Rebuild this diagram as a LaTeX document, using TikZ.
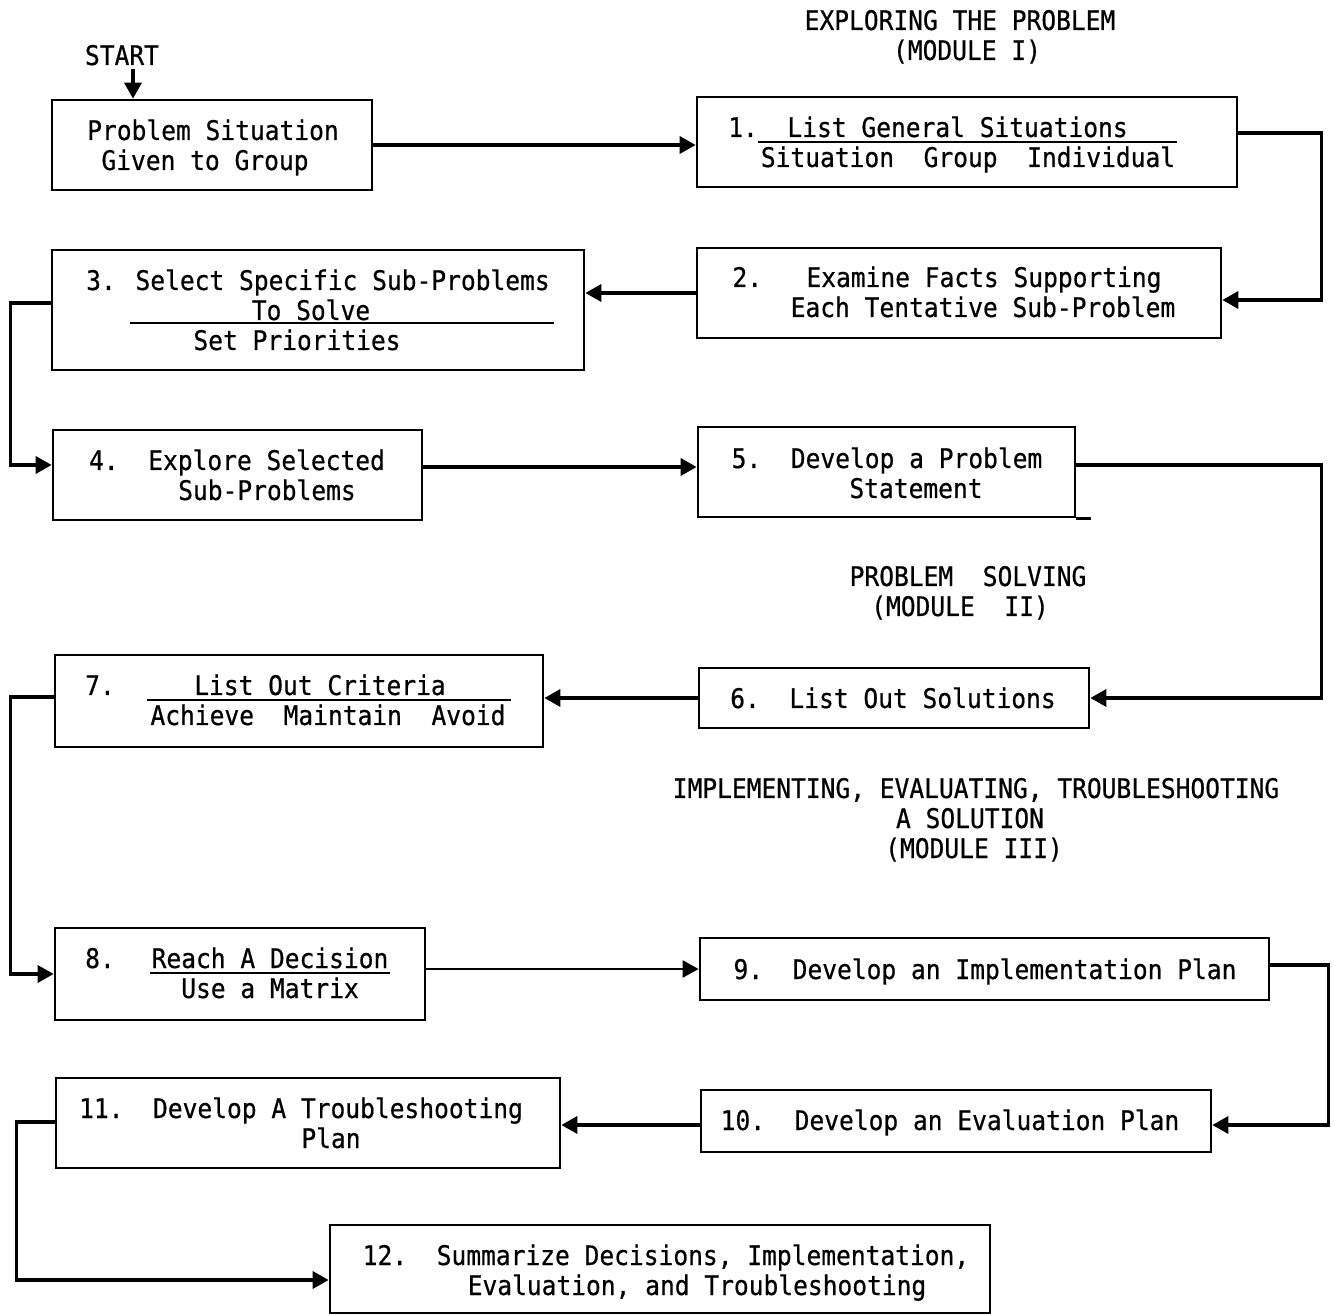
\documentclass[tikz,border=0pt]{standalone}
\usepackage{fontspec}
\newfontfamily\gothfont[FakeStretch=0.91,FakeBold=0.6]{DejaVu Sans Mono}
\usetikzlibrary{fit,calc,arrows.meta}
\begin{document}
\begin{tikzpicture}[x=0.5pt,y=-0.5pt,
  box/.style={draw, line width=1.35pt, inner sep=0pt},
  txt/.style={anchor=base, inner sep=0pt, font=\gothfont\fontsize{13.5}{15}\selectfont},
  conn/.style={line width=1.7pt, -{Triangle[length=8pt,width=8.5pt]}},
  thinconn/.style={line width=1.1pt, -{Triangle[length=8pt,width=8.5pt]}},
  divider/.style={line width=1.1pt}]
\useasboundingbox (0,0) rectangle (1334,1315);

% headings
\node[txt] (h1a) at (960,30) {EXPLORING THE PROBLEM};
\node[txt] (h1b) at (967,60) {(MODULE I)};
\node[txt] (h2a) at (968,586) {PROBLEM~~SOLVING};
\node[txt] (h2b) at (960,616) {(MODULE~~II)};
\node[txt] (h3a) at (976,798) {IMPLEMENTING, EVALUATING, TROUBLESHOOTING};
\node[txt] (h3b) at (970,828) {A SOLUTION};
\node[txt] (h3c) at (974,858) {(MODULE III)};
\node[txt] (start) at (122,65) {START};

% boxes
\node[box, fit={(52,100) (372,190)}] (b0) {};
\node[box, fit={(697,97) (1237,187)}] (b1) {};
\node[box, fit={(697,248) (1221,338)}] (b2) {};
\node[box, fit={(52,250) (584,370)}] (b3) {};
\node[box, fit={(53,430) (422,520)}] (b4) {};
\node[box, fit={(698,427) (1075,517)}] (b5) {};
\node[box, fit={(699,668) (1089,728)}] (b6) {};
\node[box, fit={(55,655) (543,747)}] (b7) {};
\node[box, fit={(55,928) (425,1020)}] (b8) {};
\node[box, fit={(700,938) (1269,1000)}] (b9) {};
\node[box, fit={(701,1090) (1211,1152)}] (b10) {};
\node[box, fit={(56,1078) (560,1168)}] (b11) {};
\node[box, fit={(330,1225) (990,1313)}] (b12) {};

% texts
\node[txt] (t0a) at (213,140) {Problem Situation};
\node[txt] (t0b) at (205,170) {Given to Group};
\node[txt] (t1a) at (928,137) {1.~~List General Situations};
\node[txt] (t1b) at (968,167) {Situation~~Group~~Individual};
\node[txt] (t2a) at (947,287) {2.~~~Examine Facts Supporting};
\node[txt] (t2b) at (983,317) {Each Tentative Sub-Problem};
\node[txt] (t3a) at (318,290) {3. Select Specific Sub-Problems};
\node[txt] (t3b) at (311,320) {To Solve};
\node[txt] (t3c) at (297,350) {Set Priorities};
\node[txt] (t4a) at (237,470) {4.~~Explore Selected};
\node[txt] (t4b) at (267,500) {Sub-Problems};
\node[txt] (t5a) at (887,468) {5.~~Develop a Problem};
\node[txt] (t5b) at (916,498) {Statement};
\node[txt] (t6a) at (893,708) {6.~~List Out Solutions};
\node[txt] (t7n) at (100,695) {7.};
\node[txt] (t7a) at (320,695) {List Out Criteria};
\node[txt] (t7b) at (328,725) {Achieve~~Maintain~~Avoid};
\node[txt] (t8n) at (100,968) {8.};
\node[txt] (t8a) at (270,968) {Reach A Decision};
\node[txt] (t8b) at (270,998) {Use a Matrix};
\node[txt] (t9a) at (985,979) {9.~~Develop an Implementation Plan};
\node[txt] (t10a) at (950,1130) {10.~~Develop an Evaluation Plan};
\node[txt] (t11a) at (301,1118) {11.~~Develop A Troubleshooting};
\node[txt] (t11b) at (331,1148) {Plan};
\node[txt] (t12a) at (666,1265) {12.~~Summarize Decisions, Implementation,};
\node[txt] (t12b) at (697,1295) {Evaluation, and Troubleshooting};

% dividers
\draw[divider] (758,142) -- (1177,142);
\draw[divider] (130,323) -- (554,323);
\draw[divider] (147,700) -- (511,700);
\draw[divider] (150,973) -- (390,973);
\draw[line width=1.35pt] (b5.south east) -- ++(15,0);

% connectors
\coordinate (s1) at ($(start.south)+(11,3)$);
\draw[conn] (s1) -- (s1 |- b0.north);
\draw[conn] (b0.east) -- (b0.east -| b1.west);
\draw[conn] ($(b1.east)+(0,-9)$) -- ++(83,0) |- ($(b2.east)+(0,7)$);
\draw[conn] (b2.west) -- (b2.west -| b3.east);
\draw[conn] ($(b3.west)+(0,-7)$) -- ++(-40,0) |- ($(b4.west)+(0,-10)$);
\coordinate (c45) at ($(b4.east)+(0,-8)$);
\draw[conn] (c45) -- (c45 -| b5.west);
\draw[conn] ($(b5.east)+(0,-7)$) -- ++(245,0) |- (b6.east);
\draw[conn] (b6.west) -- (b6.west -| b7.east);
\draw[conn] ($(b7.west)+(0,-4)$) -- ++(-43,0) |- (b8.west);
\draw[thinconn] (b8.east |- b9.west) -- (b9.west);
\draw[conn] ($(b9.east)+(0,-4)$) -- ++(58,0) |- ($(b10.east)+(0,4)$);
\coordinate (c1011) at ($(b10.west)+(0,4)$);
\draw[conn] (c1011) -- (c1011 -| b11.east);
\draw[conn] ($(b11.west)+(0,-1)$) -- ++(-38,0) |- ($(b12.west)+(0,11)$);
\end{tikzpicture}
\end{document}
